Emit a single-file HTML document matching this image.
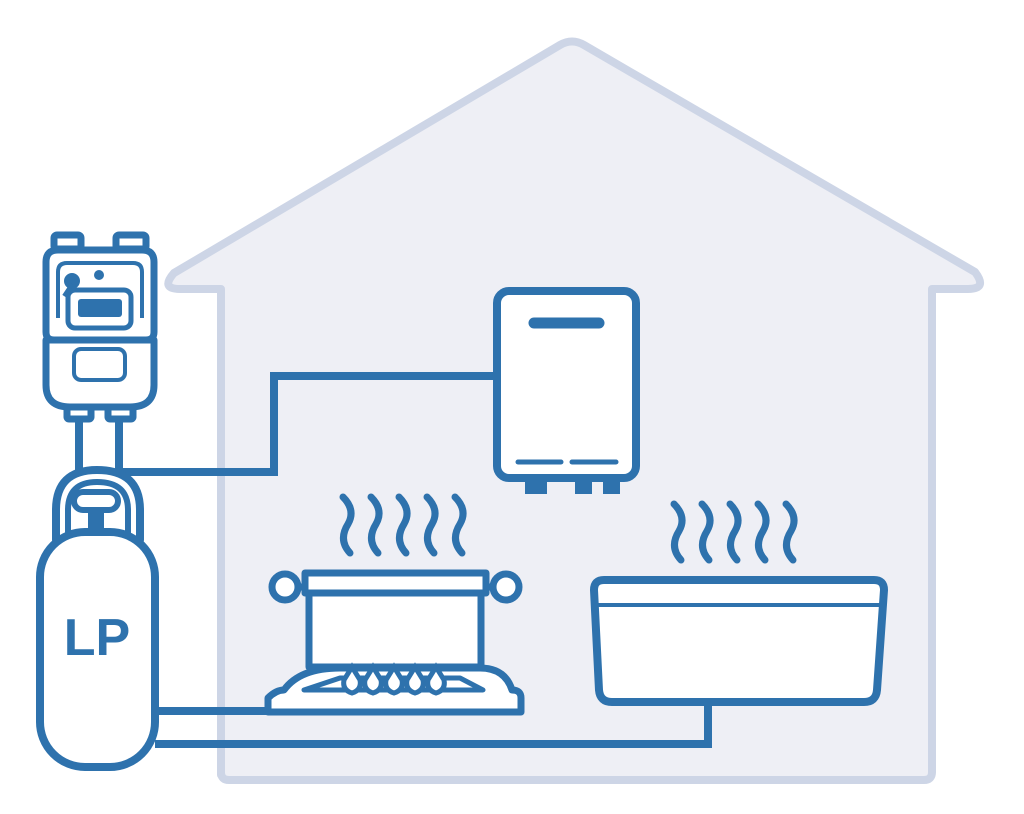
<!DOCTYPE html>
<html><head><style>html,body{margin:0;padding:0;background:#fff}svg{display:block}</style></head>
<body>
<svg width="1024" height="814" viewBox="0 0 1024 814" xmlns="http://www.w3.org/2000/svg">
<path d="M221,775 L221,289 L180,289 Q160,289 174,273 L560,45 Q572,38 584,45 L975,272 Q988,289 968,289 L932,289 L932,772 Q932,780 924,780 L229,780 Q221,780 221,772 Z" fill="#eeeff5" stroke="#cdd5e6" stroke-width="8" stroke-linejoin="round"/>
<g fill="none" stroke="#2e72ad" stroke-width="8">
<path d="M120,472 L274,472 L274,376 L497,376"/>
<path d="M155,711 L270,711"/>
<path d="M155,744 L708,744 L708,702"/>
<line x1="79" y1="418" x2="79" y2="472"/>
<line x1="119" y1="418" x2="119" y2="472"/>
</g>
<!-- meter -->
<g stroke="#2e72ad" stroke-width="7" fill="#fff" stroke-linejoin="round">
<rect x="54" y="235" width="27" height="14" rx="3"/>
<rect x="116" y="235" width="30" height="14" rx="3"/>
<rect x="67" y="405" width="24" height="14" rx="2"/>
<rect x="108" y="405" width="25" height="14" rx="2"/>
<path d="M46,340 L154,340 L154,385 Q154,407 130,407 L70,407 Q46,407 46,385 Z"/>
<path d="M46,262 Q46,250 58,250 L142,250 Q154,250 154,262 L154,332 Q154,340 146,340 L54,340 Q46,340 46,332 Z"/>
<path d="M58,318 L58,272 Q58,263 67,263 L133,263 Q142,263 142,272 L142,318" fill="none" stroke-width="4"/>
<rect x="68" y="290" width="63" height="38" rx="7" stroke-width="5"/>
<rect x="74" y="349" width="51" height="31" rx="7" stroke-width="4"/>
</g>
<rect x="78" y="299" width="44" height="18" rx="3" fill="#2e72ad"/>
<circle cx="72" cy="281" r="8" fill="#2e72ad"/>
<circle cx="99" cy="275" r="5" fill="#2e72ad"/>
<line x1="72" y1="284" x2="64" y2="296" stroke="#2e72ad" stroke-width="4"/>
<!-- cylinder -->
<g stroke="#2e72ad" stroke-width="8" fill="#fff" stroke-linejoin="round">
<path d="M56,540 L56,510 Q56,470 97,470 Q140,470 140,510 L140,540 Z"/>
<path d="M68,535 L68,510 Q68,482 97,482 Q128,482 128,510 L128,535" stroke-width="6"/>
<rect x="40" y="532" width="115" height="235" rx="45"/>
<rect x="74" y="492" width="44" height="18" rx="9" stroke-width="6"/>
</g>
<rect x="88" y="508" width="16" height="22" fill="#2e72ad"/>
<text x="97" y="655" text-anchor="middle" font-family="Liberation Sans Narrow, Liberation Sans, sans-serif" font-weight="bold" font-size="52" fill="#2e72ad">LP</text>
<!-- water heater -->
<rect x="525" y="478" width="22" height="16" fill="#2e72ad"/>
<rect x="575" y="478" width="17" height="16" fill="#2e72ad"/>
<rect x="603" y="478" width="17" height="16" fill="#2e72ad"/>
<rect x="497" y="291" width="139" height="187" rx="12" fill="#fff" stroke="#2e72ad" stroke-width="8"/>
<g stroke="#2e72ad" stroke-linecap="round">
<line x1="534" y1="323" x2="599" y2="323" stroke-width="11"/>
<line x1="518" y1="462" x2="561" y2="462" stroke-width="5"/>
<line x1="572" y1="462" x2="616" y2="462" stroke-width="5"/>
</g>
<!-- steam -->
<g fill="none" stroke="#2e72ad" stroke-width="7" stroke-linecap="round">
<path id="w" d="M343,497 Q356,510 348,524 Q338,540 350,553"/>
<use href="#w" x="28"/><use href="#w" x="56"/><use href="#w" x="84"/><use href="#w" x="112"/>
<use href="#w" x="331" y="7"/><use href="#w" x="359" y="7"/><use href="#w" x="387" y="7"/><use href="#w" x="415" y="7"/><use href="#w" x="443" y="7"/>
</g>
<!-- stove -->
<g stroke="#2e72ad" stroke-width="7" fill="#fff" stroke-linejoin="round">
<path d="M268,712 L268,698 Q276,690 284,690 Q300,668 340,668 L480,668 Q505,668 512,690 Q521,690 521,698 L521,712 Z"/>
<path d="M304,690 L340,678 L460,678 L483,690 Z" stroke-width="5"/>
<circle cx="285" cy="587" r="13"/>
<circle cx="506" cy="587" r="13"/>
<line x1="298" y1="587" x2="493" y2="587"/>
<rect x="309" y="593" width="172" height="74"/>
<rect x="305" y="573" width="181" height="20"/>
</g>
<g fill="#fff" stroke="#2e72ad" stroke-width="5">
<path id="f" d="M352,693 Q342,690 344,680 L352,667 L360,680 Q362,690 352,693 Z"/>
<use href="#f" x="21"/><use href="#f" x="42"/><use href="#f" x="63"/><use href="#f" x="84"/>
</g>
<!-- tub -->
<path d="M594,590 Q594,580 604,580 L874,580 Q884,580 884,590 L877,690 Q876,702 864,702 L612,702 Q600,702 599,690 Z" fill="#fff" stroke="#2e72ad" stroke-width="8" stroke-linejoin="round"/>
<line x1="596" y1="605" x2="882" y2="605" stroke="#2e72ad" stroke-width="4"/>
</svg>
</body></html>
